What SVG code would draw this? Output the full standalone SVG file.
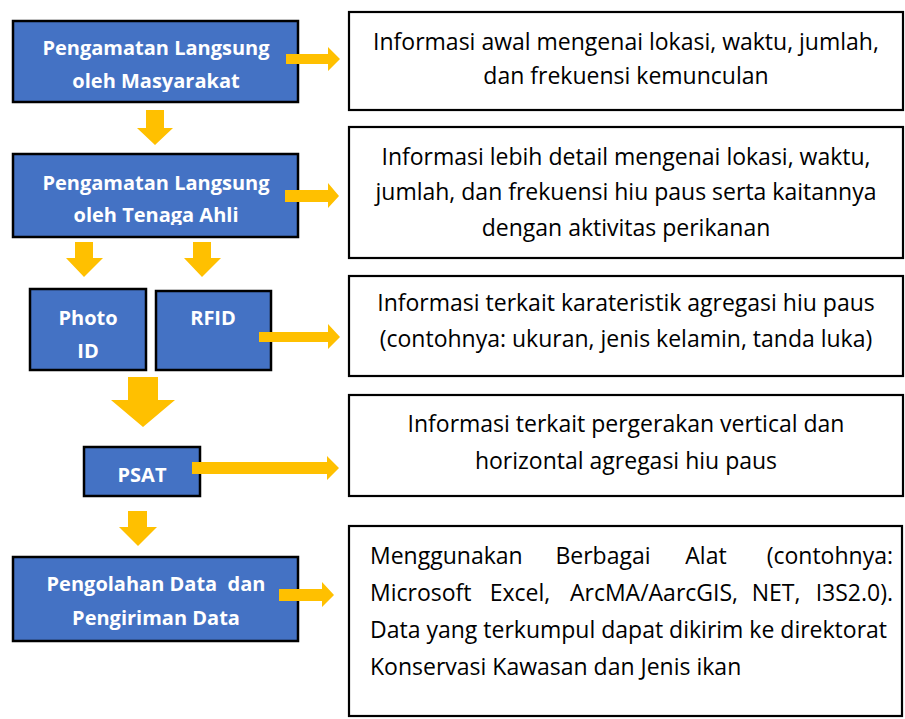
<svg xmlns="http://www.w3.org/2000/svg" width="905" height="719" viewBox="0 0 905 719">
<style>
.blue{fill:#4472C4;stroke:#000;stroke-width:2.5}
.info{fill:#fff;stroke:#000;stroke-width:2.2}
.arr{fill:#FFC000}
.bt{font-family:"Open Sans","Liberation Sans",sans-serif;font-weight:700;font-size:20px;fill:#fff;text-anchor:middle}
.rt{font-family:"Open Sans","Liberation Sans",sans-serif;font-size:23px;fill:#000;text-anchor:middle}
.jt{font-family:"Open Sans","Liberation Sans",sans-serif;font-size:23px;fill:#000}
</style>
<defs>
<clipPath id="clipA"><rect x="13" y="21" width="285" height="71"/></clipPath>
<clipPath id="clipB"><rect x="13" y="154" width="285" height="71"/></clipPath>
</defs>
<g id="n1">
<rect class="blue" x="13" y="21" width="285" height="81"/>
<g clip-path="url(#clipA)">
<text class="bt" x="156" y="55">Pengamatan Langsung</text>
<text class="bt" x="156" y="88">oleh Masyarakat</text>
</g>
</g>
<g id="n2">
<rect class="blue" x="13" y="154" width="285" height="83"/>
<g clip-path="url(#clipB)">
<text class="bt" x="156" y="190">Pengamatan Langsung</text>
<text class="bt" x="156" y="222">oleh Tenaga Ahli</text>
</g>
</g>
<g id="n3">
<rect class="blue" x="30" y="289" width="116" height="81"/>
<text class="bt" x="88" y="325">Photo</text>
<text class="bt" x="88" y="358">ID</text>
</g>
<g id="n4">
<rect class="blue" x="156" y="291" width="115" height="79"/>
<text class="bt" x="213" y="325">RFID</text>
</g>
<g id="n5">
<rect class="blue" x="84" y="447" width="116" height="49"/>
<text class="bt" x="142" y="482">PSAT</text>
</g>
<g id="n6">
<rect class="blue" x="13" y="557" width="285" height="84"/>
<text class="bt" x="156" y="591" xml:space="preserve">Pengolahan Data  dan</text>
<text class="bt" x="156" y="625">Pengiriman Data</text>
</g>
<g id="i1">
<rect class="info" x="349" y="12" width="554" height="98"/>
<text class="rt" x="626" y="50">Informasi awal mengenai lokasi, waktu, jumlah,</text>
<text class="rt" x="626" y="84">dan frekuensi kemunculan</text>
</g>
<g id="i2">
<rect class="info" x="349" y="127" width="554" height="131"/>
<text class="rt" x="626" y="165">Informasi lebih detail mengenai lokasi, waktu,</text>
<text class="rt" x="626" y="200">jumlah, dan frekuensi hiu paus serta kaitannya</text>
<text class="rt" x="626" y="236">dengan aktivitas perikanan</text>
</g>
<g id="i3">
<rect class="info" x="349" y="276" width="554" height="100"/>
<text class="rt" x="626" y="311">Informasi terkait karateristik agregasi hiu paus</text>
<text class="rt" x="626" y="347">(contohnya: ukuran, jenis kelamin, tanda luka)</text>
</g>
<g id="i4">
<rect class="info" x="349" y="395" width="554" height="101"/>
<text class="rt" x="626" y="432">Informasi terkait pergerakan vertical dan</text>
<text class="rt" x="626" y="469">horizontal agregasi hiu paus</text>
</g>
<g id="i5">
<rect class="info" x="349" y="526" width="553" height="190"/>
<text class="jt" y="564"><tspan x="370">Menggunakan</tspan><tspan x="603" text-anchor="middle">Berbagai</tspan><tspan x="706" text-anchor="middle">Alat</tspan><tspan x="893" text-anchor="end">(contohnya:</tspan></text>
<text class="jt" y="601"><tspan x="370">Microsoft</tspan><tspan x="520" text-anchor="middle">Excel,</tspan><tspan x="654" text-anchor="middle">ArcMA/AarcGIS,</tspan><tspan x="776" text-anchor="middle">NET,</tspan><tspan x="893" text-anchor="end">I3S2.0).</tspan></text>
<text class="jt" x="370" y="638">Data yang terkumpul dapat dikirim ke direktorat</text>
<text class="jt" x="370" y="675">Konservasi Kawasan dan Jenis ikan</text>
</g>
<g id="connectors">
<polygon class="arr" points="286,54 328,54 328,47 340,59 328,71 328,64 286,64"/>
<polygon class="arr" points="146,110 164,110 164,128 173,128 155,145 137,128 146,128"/>
<polygon class="arr" points="285,190 328,190 328,183 339,196 328,208 328,202 285,202"/>
<polygon class="arr" points="75,242 93,242 93,258 103,258 84,277 66,258 75,258"/>
<polygon class="arr" points="193,242 211,242 211,258 221,258 202,277 184,258 193,258"/>
<polygon class="arr" points="259,332 328,332 328,324 340,337 328,349 328,342 259,342"/>
<polygon class="arr" points="128,377 158,377 158,400 175,400 143,427 111,400 128,400"/>
<polygon class="arr" points="192,462 327,462 327,456 339,468 327,480 327,474 192,474"/>
<polygon class="arr" points="128,511 147,511 147,527 157,527 138,546 119,527 128,527"/>
<polygon class="arr" points="279,589 322,589 322,582 334,595 322,607 322,601 279,601"/>
</g>
</svg>
